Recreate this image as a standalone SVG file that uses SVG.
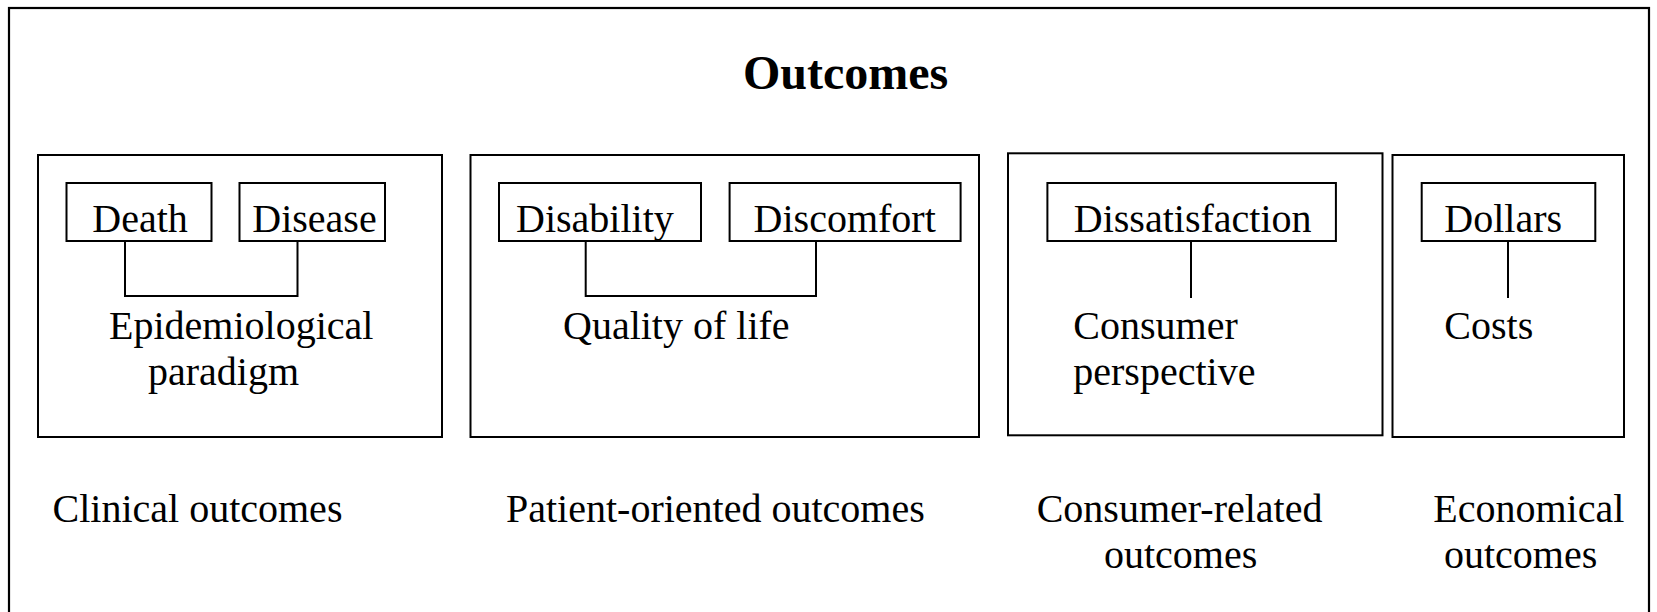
<svg xmlns="http://www.w3.org/2000/svg" width="1657" height="612" viewBox="0 0 1657 612">
  <style>
    .frame { fill: none; stroke: #000; stroke-width: 2.2; }
    .panel { fill: none; stroke: #000; stroke-width: 2; }
    .box { fill: #fff; stroke: #000; stroke-width: 2; }
    .link { fill: none; stroke: #000; stroke-width: 2; }
    text { font-family: "Liberation Serif", "Times New Roman", serif; font-size: 40px; fill: #000; }
    .title { font-size: 48px; font-weight: bold; }
  </style>
  <rect width="1657" height="612" fill="#fff"/>

  <!-- outer frame (bottom edge runs off the canvas) -->
  <rect class="frame" x="9" y="8" width="1640" height="620"/>
  <text class="title" x="743" y="89">Outcomes</text>

  <!-- connectors -->
  <g id="connectors">
    <polyline class="link" points="125,241 125,296 297.5,296 297.5,241"/>
    <polyline class="link" points="585.7,241 585.7,296 816,296 816,241"/>
    <line class="link" x1="1191" y1="241" x2="1191" y2="298"/>
    <line class="link" x1="1508" y1="241" x2="1508" y2="298"/>
  </g>

  <!-- clinical outcomes -->
  <g id="clinical">
    <rect class="panel" x="38" y="155" width="404" height="282"/>
    <text x="109" y="339">Epidemiological</text>
    <text x="148" y="385">paradigm</text>
    <text x="52.5" y="521.5">Clinical outcomes</text>
  </g>
  <g id="death">
    <rect class="box" x="66.5" y="183" width="145" height="58"/>
    <text x="92.3" y="232">Death</text>
  </g>
  <g id="disease">
    <rect class="box" x="239.5" y="183" width="145.5" height="58"/>
    <text x="252.3" y="232">Disease</text>
  </g>

  <!-- patient-oriented outcomes -->
  <g id="patient">
    <rect class="panel" x="470.5" y="155" width="508.5" height="282"/>
    <text x="563" y="339">Quality of life</text>
    <text x="506" y="521.5">Patient-oriented outcomes</text>
  </g>
  <g id="disability">
    <rect class="box" x="499" y="183" width="202" height="58"/>
    <text x="516" y="232">Disability</text>
  </g>
  <g id="discomfort">
    <rect class="box" x="729.6" y="183" width="231" height="58"/>
    <text x="753.6" y="232">Discomfort</text>
  </g>

  <!-- consumer-related outcomes -->
  <g id="consumer">
    <rect class="panel" x="1008" y="153.3" width="374.5" height="282"/>
    <text x="1073.3" y="339">Consumer</text>
    <text x="1073.3" y="385">perspective</text>
    <text x="1036.7" y="521.5">Consumer-related</text>
    <text x="1104" y="568">outcomes</text>
  </g>
  <g id="dissatisfaction">
    <rect class="box" x="1047.4" y="183" width="288.5" height="58"/>
    <text x="1073.8" y="232">Dissatisfaction</text>
  </g>

  <!-- economical outcomes -->
  <g id="economical">
    <rect class="panel" x="1392.5" y="155" width="231.5" height="282"/>
    <text x="1444.3" y="339">Costs</text>
    <text x="1433.3" y="521.5">Economical</text>
    <text x="1444" y="568">outcomes</text>
  </g>
  <g id="dollars">
    <rect class="box" x="1421.7" y="183" width="173.6" height="58"/>
    <text x="1444.3" y="232">Dollars</text>
  </g>
</svg>
